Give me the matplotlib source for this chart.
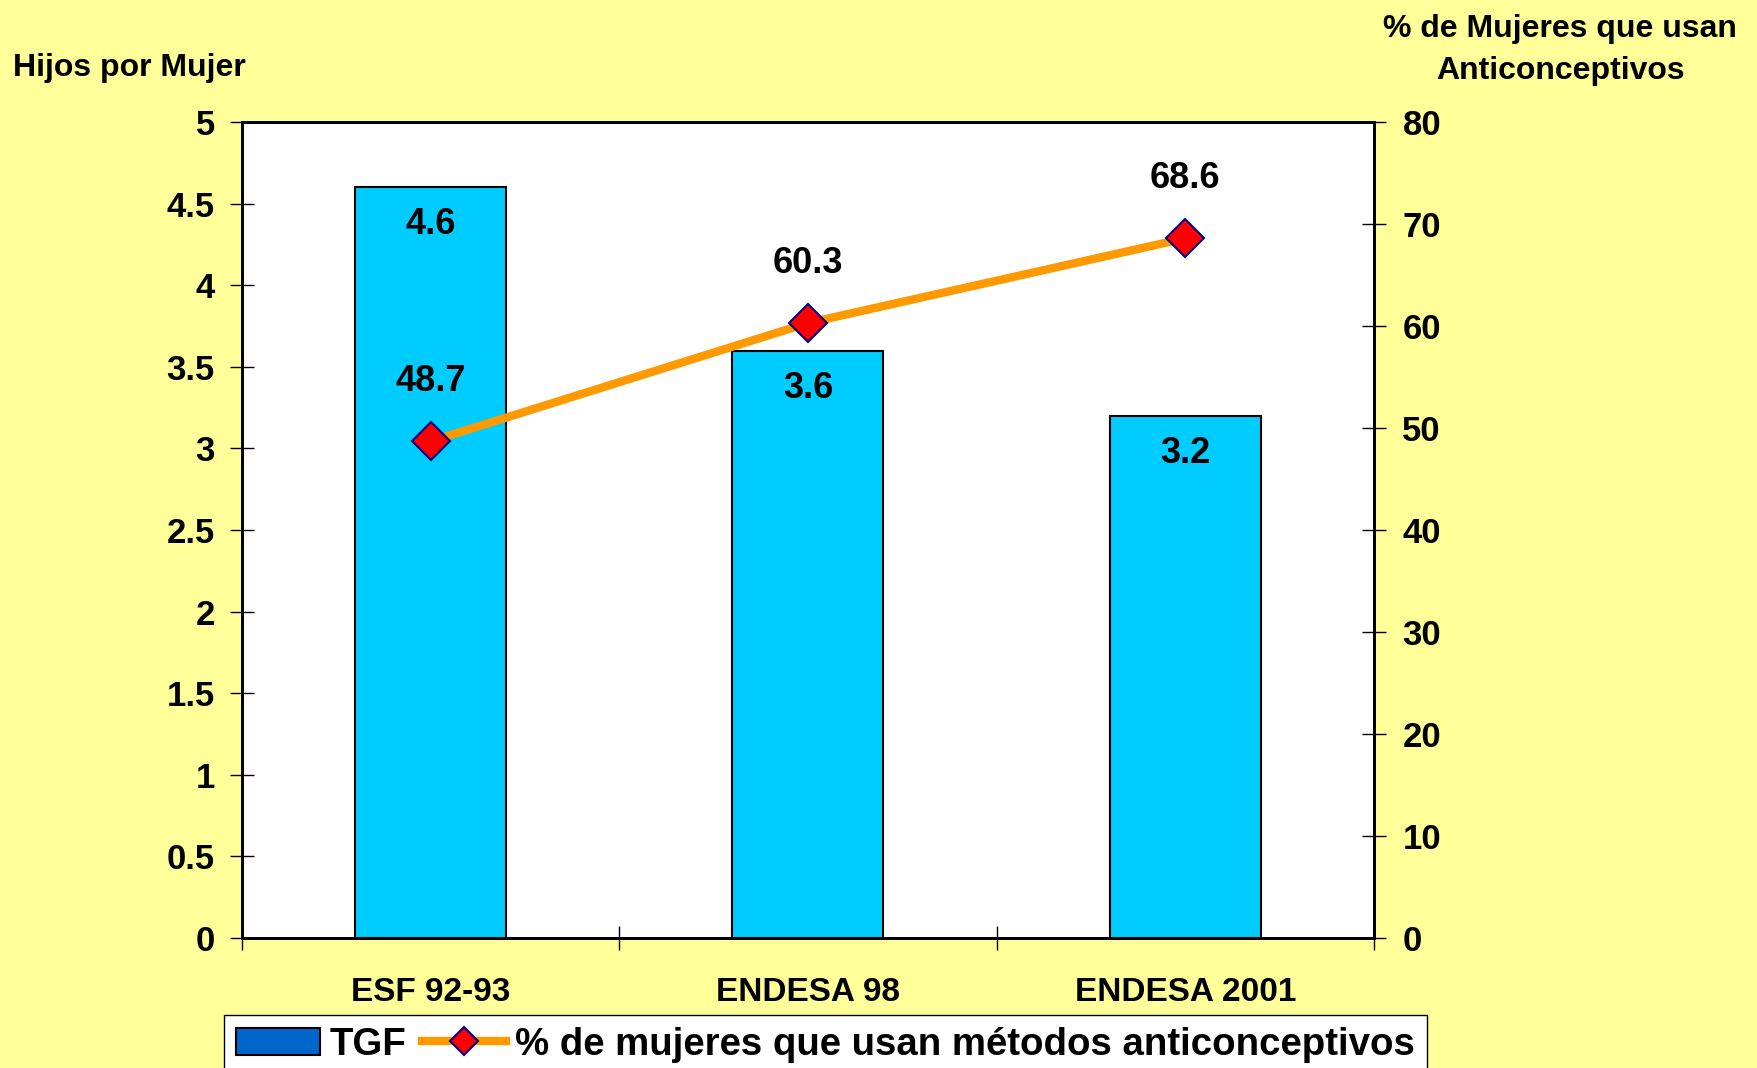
import matplotlib
matplotlib.use("Agg")
import matplotlib.pyplot as plt
from matplotlib.patches import Patch
from matplotlib.lines import Line2D
import numpy as np

# data
encuestas = ["ESF 92-93", "ENDESA 98", "ENDESA 2001"]
tgf = [4.6, 3.6, 3.2]
anticonceptivos = [48.7, 60.3, 68.6]

left_ticks = [0, 0.5, 1, 1.5, 2, 2.5, 3, 3.5, 4, 4.5, 5]
left_labels = ["0", "0.5", "1", "1.5", "2", "2.5", "3", "3.5", "4", "4.5", "5"]
right_ticks = [0, 10, 20, 30, 40, 50, 60, 70, 80]

FONT = ["Liberation Sans", "DejaVu Sans"]
plt.rcParams["font.family"] = FONT
plt.rcParams["font.weight"] = "bold"

BG = "#FFFF99"
fig = plt.figure(figsize=(17.57, 10.68), dpi=100, facecolor=BG)
ax = fig.add_axes([0.1377, 0.1217, 0.6443, 0.764])
ax.set_facecolor("white")

x = np.arange(len(encuestas))
ax.bar(x, tgf, width=0.4, color="#00CCFF", edgecolor="black", linewidth=1.5, zorder=2)
ax.set_xlim(-0.5, len(encuestas) - 0.5)
ax.set_ylim(0, 5)
ax.set_yticks(left_ticks)
ax.set_yticklabels(left_labels)

# category boundaries as major ticks, labels on minor ticks
ax.set_xticks(np.arange(-0.5, len(encuestas)))
ax.set_xticklabels([])
ax.set_xticks(x, minor=True)
ax.set_xticklabels(encuestas, minor=True, fontsize=24, fontweight="bold")
ax.tick_params(axis="x", which="minor", length=0, pad=28)
ax.tick_params(axis="x", which="major", direction="inout", length=17, width=1)
ax.tick_params(axis="y", direction="inout", length=17, width=1, labelsize=25, pad=11)

for s in ax.spines.values():
    s.set_linewidth(2)

for xi, v in zip(x, tgf):
    ax.annotate(f"{v:.1f}", (xi, v), xytext=(0, -27), textcoords="offset points",
                ha="center", va="center", fontsize=26, fontweight="bold")

ax2 = ax.twinx()
ax2.plot(x, anticonceptivos, color="#FF9900", linewidth=6, marker="D", markersize=19,
         markerfacecolor="#FF0000", markeredgecolor="#000080", markeredgewidth=1.5, zorder=3)
ax2.set_ylim(0, 80)
ax2.set_yticks(right_ticks)
ax2.tick_params(axis="y", direction="inout", length=17, width=1, labelsize=25, pad=12)
for s in ax2.spines.values():
    s.set_linewidth(2)

for xi, v in zip(x, anticonceptivos):
    ax2.annotate(f"{v:.1f}", (xi, v), xytext=(0, 43), textcoords="offset points",
                 ha="center", va="center", fontsize=26, fontweight="bold")

fig.text(0.0074, 0.936, "Hijos por Mujer", fontsize=23, fontweight="bold", va="center", ha="left")
fig.text(0.888, 0.953, "% de Mujeres que usan\nAnticonceptivos", fontsize=23,
         fontweight="bold", va="center", ha="center", linespacing=1.5)

handles = [
    Patch(facecolor="#0066CC", edgecolor="black", linewidth=1.5),
    Line2D([], [], color="#FF9900", linewidth=6, marker="D", markersize=14,
           markerfacecolor="#FF0000", markeredgecolor="#000080", markeredgewidth=1.5),
]
labels = ["TGF", "% de mujeres que usan métodos anticonceptivos"]
leg = fig.legend(handles, labels, loc="upper left", bbox_to_anchor=(0.1275, 0.0496),
                 ncol=2, frameon=True, fancybox=False, edgecolor="black", framealpha=1,
                 borderaxespad=0, borderpad=0.3, handlelength=2.2, handletextpad=0.25,
                 columnspacing=0.4, numpoints=1,
                 prop={"size": 27.6, "weight": "bold"})
leg.get_frame().set_linewidth(1)

fig.savefig("out.png", dpi=100, facecolor=BG)
